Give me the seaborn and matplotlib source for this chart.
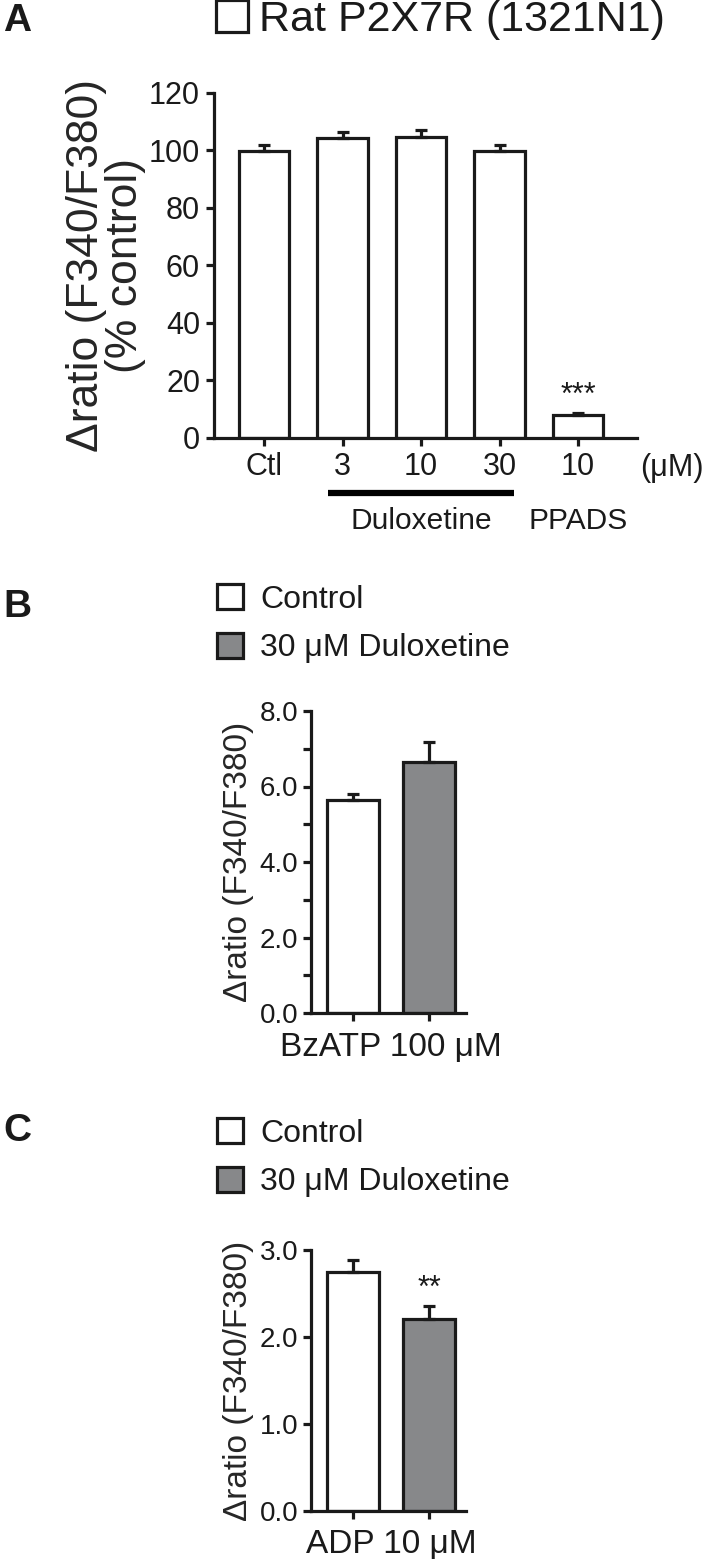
import numpy as np
import pandas as pd
import seaborn as sns
import matplotlib.pyplot as plt
import matplotlib.transforms as mtransforms
from matplotlib.patches import Patch
from matplotlib.ticker import MultipleLocator

# panel A: rat P2X7R, % of control
a_groups = ["Ctl", "3", "10", "30", "10 "]
a_ticklabels = ["Ctl", "3", "10", "30", "10"]
a_means = [99.7, 104.3, 104.7, 99.7, 8.1]
a_sem = [2.3, 2.0, 2.6, 2.2, 0.5]

# panel B: BzATP 100 uM
b_groups = ["Control", "30 μM Duloxetine"]
b_means = [5.65, 6.65]
b_sem = [0.14, 0.52]

# panel C: ADP 10 uM
c_groups = ["Control", "30 μM Duloxetine"]
c_means = [2.75, 2.21]
c_sem = [0.14, 0.15]

GREY = "#87888a"
INK = "#1a1a1a"
LW = 2.3

sns.set_style("ticks")
plt.rcParams["font.family"] = ["Liberation Sans", "DejaVu Sans"]
plt.rcParams["axes.linewidth"] = LW
plt.rcParams["xtick.major.width"] = LW
plt.rcParams["ytick.major.width"] = LW
plt.rcParams["ytick.minor.width"] = LW
plt.rcParams["xtick.major.size"] = 6
plt.rcParams["ytick.major.size"] = 6
plt.rcParams["ytick.minor.size"] = 6
plt.rcParams["axes.edgecolor"] = INK
plt.rcParams["xtick.color"] = INK
plt.rcParams["ytick.color"] = INK
plt.rcParams["text.color"] = INK

fig = plt.figure(figsize=(7.06, 15.67), dpi=100)
H = 1567.0
W = 706.0


def axes_px(left, right, top, bottom):
    return fig.add_axes([left / W, 1 - bottom / H, (right - left) / W, (bottom - top) / H])


def bars(ax, groups, means, sems, colors, width, capsize):
    df = pd.DataFrame({"group": groups, "value": means})
    sns.barplot(data=df, x="group", y="value", hue="group", palette=colors,
                legend=False, width=width, edgecolor=INK, linewidth=LW,
                errorbar=None, ax=ax)
    pos = np.arange(len(groups))
    ax.errorbar(pos, means, yerr=[np.zeros(len(sems)), sems], fmt="none",
                ecolor=INK, elinewidth=LW, capsize=capsize, capthick=LW,
                zorder=1)
    sns.despine(ax=ax)
    ax.set_xlabel("")


def two_box_legend(labels, top_px):
    fig.legend(handles=[Patch(facecolor="white", edgecolor=INK, linewidth=LW),
                        Patch(facecolor=GREY, edgecolor=INK, linewidth=LW)],
               labels=labels, loc="upper left",
               bbox_to_anchor=(217 / W, 1 - top_px / H), frameon=False, fontsize=23,
               handlelength=0.8, handleheight=0.85, handletextpad=0.55,
               labelspacing=0.56, borderpad=0, borderaxespad=0)


# ---------- A ----------
axA = axes_px(214, 637, 93, 438)
bars(axA, a_groups, a_means, a_sem, ["white"] * 5, 0.64, 4.5)
axA.set_xlim(-0.637, 4.75)
axA.set_ylim(0, 120)
axA.set_yticks(np.arange(0, 121, 20))
axA.set_xticks(range(5))
axA.set_xticklabels(a_ticklabels)
axA.tick_params(axis="both", labelsize=22, pad=4)
axA.set_ylabel("Δratio (F340/F380)\n(% control)", fontsize=32, linespacing=0.95,
               labelpad=2)
axA.text(4, 9.5, "***", ha="center", va="bottom", fontsize=22)
trA = mtransforms.blended_transform_factory(axA.transData, axA.transAxes)
axA.plot([0.82, 3.18], [-0.159, -0.159], color="black", lw=4.5,
         transform=trA, clip_on=False, solid_capstyle="butt")
axA.text(2.0, -0.24, "Duloxetine", ha="center", va="center", fontsize=21.5,
         transform=trA)
axA.text(4.0, -0.24, "PPADS", ha="center", va="center", fontsize=21.5,
         transform=trA)
axA.text(5.2, -0.087, "(μM)", ha="center", va="center", fontsize=22,
         transform=trA)

fig.text(3 / W, 1 - 21 / H, "A", fontsize=28, fontweight="bold", va="center")
fig.legend(handles=[Patch(facecolor="white", edgecolor=INK, linewidth=LW)],
           labels=["Rat P2X7R (1321N1)"], loc="center left",
           bbox_to_anchor=(216 / W, 1 - 20 / H), frameon=False, fontsize=31,
           handlelength=0.75, handleheight=0.75, handletextpad=0.24,
           borderpad=0, borderaxespad=0)

# ---------- B ----------
axB = axes_px(311, 466, 711, 1013)
bars(axB, b_groups, b_means, b_sem, ["white", GREY], 0.675, 4)
axB.set_xlim(-0.545, 1.48)
axB.set_ylim(0, 8)
axB.yaxis.set_minor_locator(MultipleLocator(1))
axB.set_yticks(np.arange(0, 8.1, 2))
axB.set_yticklabels([f"{v:.1f}" for v in np.arange(0, 8.1, 2)])
axB.set_xticks([0, 1])
axB.set_xticklabels(["", ""])
axB.tick_params(axis="y", labelsize=20, pad=3)
axB.set_ylabel("Δratio (F340/F380)", fontsize=24, labelpad=4)
trB = mtransforms.blended_transform_factory(axB.transData, axB.transAxes)
axB.text(0.5, -0.115, "BzATP 100 μM", ha="center", va="center", fontsize=24,
         transform=trB)

fig.text(3 / W, 1 - 607 / H, "B", fontsize=28, fontweight="bold", va="center")
two_box_legend(b_groups, 584)

# ---------- C ----------
axC = axes_px(311, 466, 1250, 1511)
bars(axC, c_groups, c_means, c_sem, ["white", GREY], 0.675, 4)
axC.set_xlim(-0.545, 1.48)
axC.set_ylim(0, 3)
axC.set_yticks(np.arange(0, 3.1, 1))
axC.set_yticklabels([f"{v:.1f}" for v in np.arange(0, 3.1, 1)])
axC.set_xticks([0, 1])
axC.set_xticklabels(["", ""])
axC.tick_params(axis="y", labelsize=20, pad=3)
axC.set_ylabel("Δratio (F340/F380)", fontsize=24, labelpad=4)
axC.text(1, 2.38, "**", ha="center", va="bottom", fontsize=22)
trC = mtransforms.blended_transform_factory(axC.transData, axC.transAxes)
axC.text(0.5, -0.13, "ADP 10 μM", ha="center", va="center", fontsize=24,
         transform=trC)

fig.text(3 / W, 1 - 1131 / H, "C", fontsize=28, fontweight="bold", va="center")
two_box_legend(c_groups, 1118)

fig.savefig("out.png", dpi=100)
